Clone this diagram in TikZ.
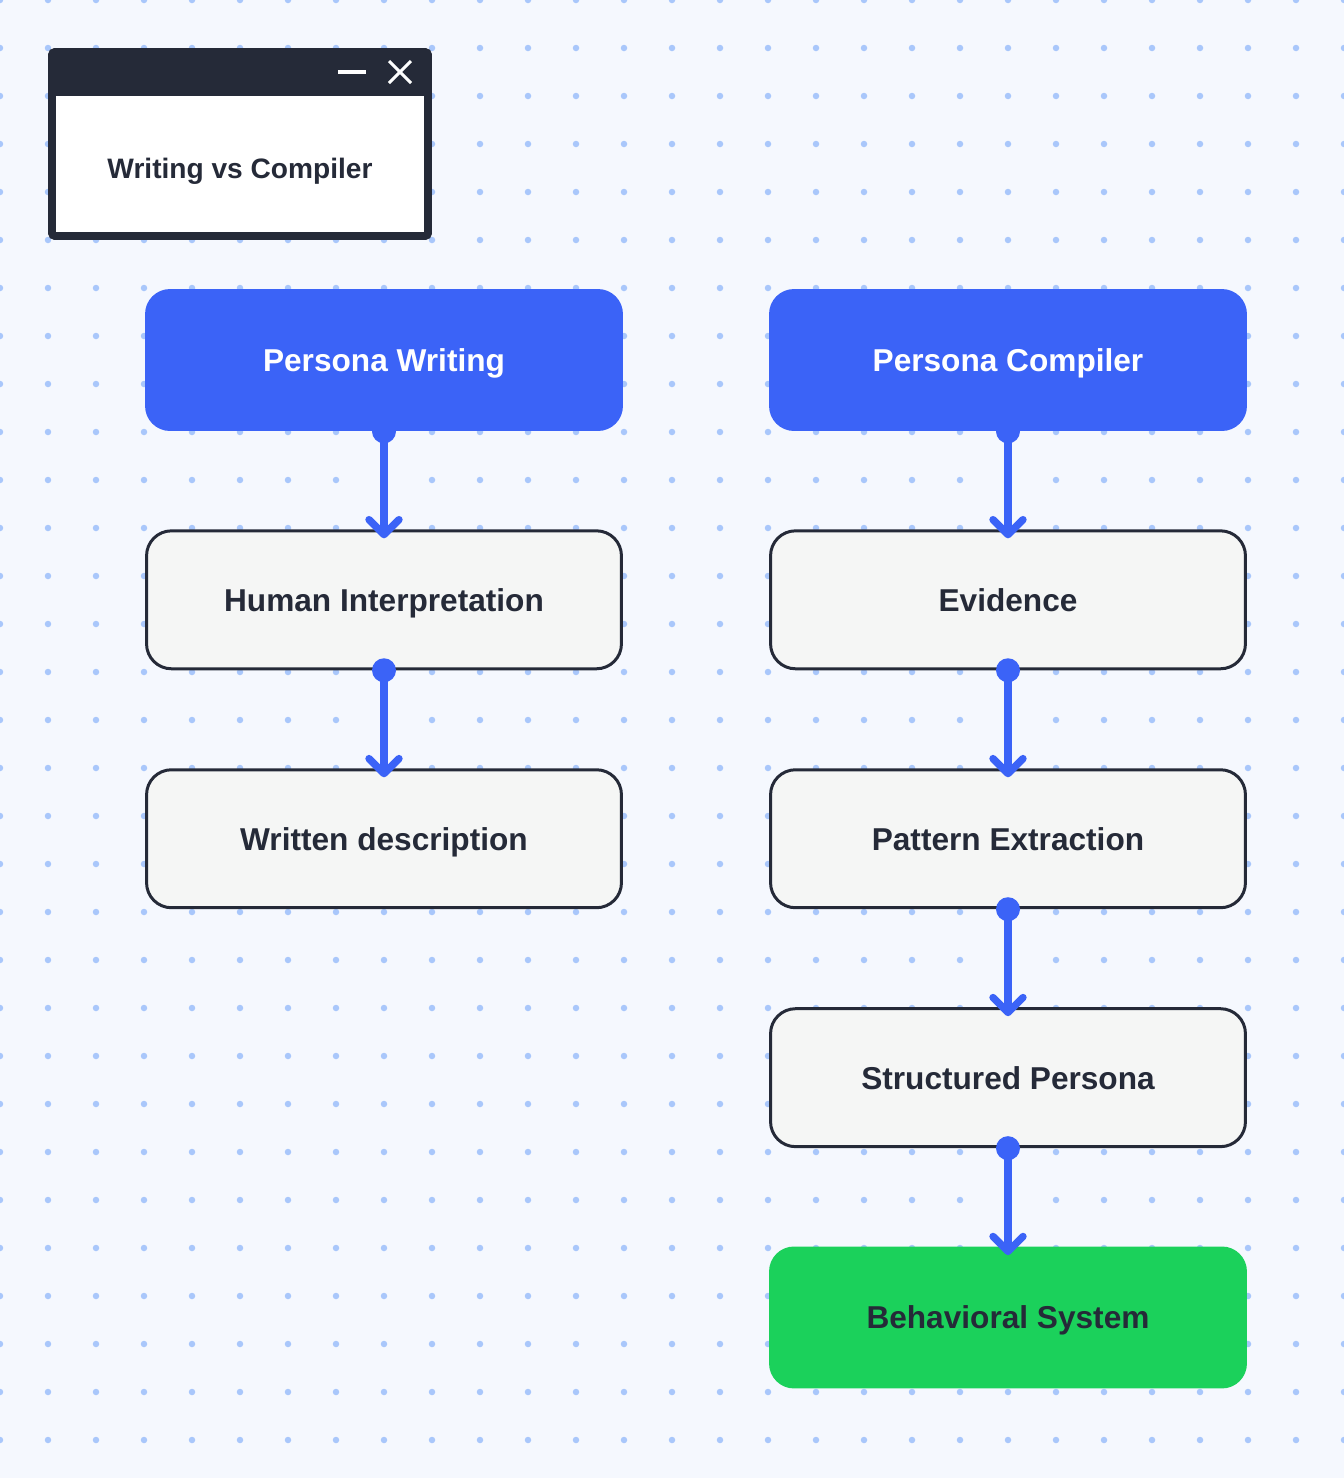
\documentclass[tikz,border=0pt]{standalone}
\usepackage{fontspec}
\setmainfont{Liberation Sans}
\usetikzlibrary{positioning,arrows.meta}
\definecolor{bgpaper}{HTML}{F5F8FE}
\definecolor{griddot}{HTML}{A9C7FB}
\definecolor{inkdark}{HTML}{252A38}
\definecolor{flowblue}{HTML}{3B63F7}
\definecolor{stepfill}{HTML}{F5F6F5}
\definecolor{donegreen}{HTML}{1BD15B}

\begin{document}
\begin{tikzpicture}[x=0.02cm,y=-0.02cm,node distance=1.96cm,
  basebox/.style={rounded corners=0.5cm,minimum width=9.56cm,minimum height=2.84cm,
    font=\fontsize{18}{21}\selectfont\bfseries,text=inkdark,
    text height=13pt,text depth=0pt},
  headbox/.style={basebox,fill=flowblue,text=white},
  stepbox/.style={basebox,fill=stepfill,draw=inkdark,line width=1.7pt,
    minimum width=9.5cm,minimum height=2.76cm},
  endbox/.style={basebox,fill=donegreen},
  flow/.style={draw=flowblue,line width=4.2pt,
    -{Straight Barb[length=0.3cm,width=0.6cm,round]}},
  knob/.style={fill=flowblue}]
% paper and dot grid
\fill[bgpaper] (0,0) rectangle (1344,1478);
\useasboundingbox (0,0) rectangle (1344,1478);
\foreach \i in {0,...,28}
  \foreach \j in {0,...,30}
    \fill[griddot] (48*\i,48*\j) circle (0.065cm);

% window with the title
\draw[fill=white,draw=inkdark,line width=4.5pt,rounded corners=0.06cm] (52,52) rectangle (428,236);
\fill[inkdark] (52,52) rectangle (428,96);
\draw[white,line width=1.8pt] (338,72) -- (366,72);
\draw[white,line width=1.8pt] (389,61) -- (411,83) (389,83) -- (411,61);
\node[font=\fontsize{16}{19}\selectfont\bfseries,text=inkdark,text height=11.5pt,text depth=0pt] (title) at (240,168) {Writing vs Compiler};

% left column
\node[headbox] (pw) at (384,360) {Persona Writing};
\node[stepbox,below=of pw] (hi) {Human Interpretation};
\node[stepbox,below=of hi] (wd) {Written description};

% right column
\node[headbox] (pc) at (1008,360) {Persona Compiler};
\node[stepbox,below=of pc] (ev) {Evidence};
\node[stepbox,below=of ev] (pe) {Pattern Extraction};
\node[stepbox,below=of pe] (sp) {Structured Persona};
\node[endbox,below=of sp] (bs) {Behavioral System};

% connectors
\foreach \a/\b in {pw/hi,hi/wd,pc/ev,ev/pe,pe/sp,sp/bs}{
  \draw[flow] (\a.south) -- ([yshift=-0.18cm]\b.north);
  \fill[knob] (\a.south) circle (0.24cm);
}
\end{tikzpicture}
\end{document}
